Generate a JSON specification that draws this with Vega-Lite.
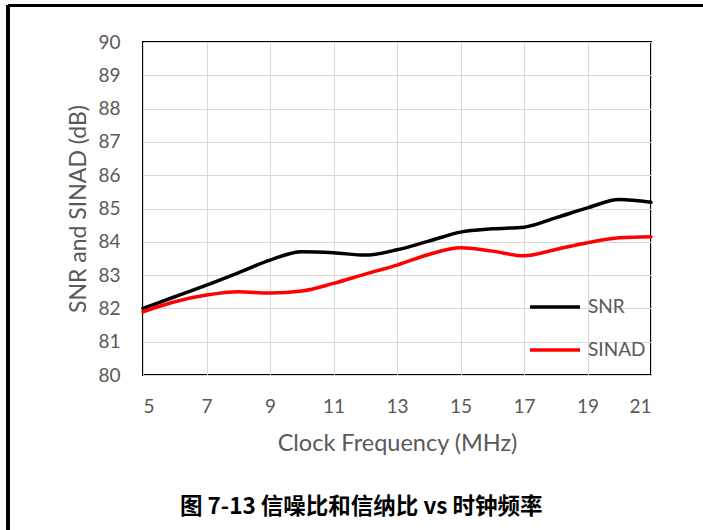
{
  "$schema": "https://vega.github.io/schema/vega-lite/v6.json",
  "autosize": "none",
  "width": 508,
  "height": 333,
  "padding": {"left": 143, "top": 42, "right": 52, "bottom": 155},
  "background": "white",
  "title": {
    "text": "图 7-13 信噪比和信纳比 vs 时钟频率",
    "orient": "bottom",
    "anchor": "middle",
    "frame": "bounds",
    "font": "Noto Sans CJK SC",
    "fontSize": 22.5,
    "fontWeight": "bold",
    "color": "black",
    "offset": -47
  },
  "config": {
    "view": {"stroke": "black", "strokeWidth": 2},
    "font": "Lato",
    "axis": {
      "domain": false,
      "ticks": false,
      "grid": true,
      "gridColor": "#D9D9D9",
      "gridWidth": 1,
      "labelOverlap": false,
      "labelFont": "Lato",
      "labelFontSize": 19,
      "labelColor": "#595959",
      "titleFont": "Lato",
      "titleFontWeight": "normal",
      "titleColor": "#595959"
    },
    "axisX": {"labelPadding": 22, "titleFontSize": 23.5, "titlePadding": 15},
    "axisY": {"labelPadding": 23, "titleFontSize": 23, "titlePadding": 7}
  },
  "data": {
    "values": [
      {"f": 5, "series": "SNR", "v": 82.0},
      {"f": 6, "series": "SNR", "v": 82.35},
      {"f": 7, "series": "SNR", "v": 82.7},
      {"f": 8, "series": "SNR", "v": 83.07},
      {"f": 9, "series": "SNR", "v": 83.45},
      {"f": 10, "series": "SNR", "v": 83.7},
      {"f": 11, "series": "SNR", "v": 83.67},
      {"f": 12, "series": "SNR", "v": 83.6},
      {"f": 13, "series": "SNR", "v": 83.76},
      {"f": 14, "series": "SNR", "v": 84.02},
      {"f": 15, "series": "SNR", "v": 84.29},
      {"f": 16, "series": "SNR", "v": 84.39},
      {"f": 17, "series": "SNR", "v": 84.44},
      {"f": 18, "series": "SNR", "v": 84.72},
      {"f": 19, "series": "SNR", "v": 85.02},
      {"f": 20, "series": "SNR", "v": 85.27},
      {"f": 21, "series": "SNR", "v": 85.19},
      {"f": 5, "series": "SINAD", "v": 81.9},
      {"f": 6, "series": "SINAD", "v": 82.2},
      {"f": 7, "series": "SINAD", "v": 82.4},
      {"f": 8, "series": "SINAD", "v": 82.5},
      {"f": 9, "series": "SINAD", "v": 82.46},
      {"f": 10, "series": "SINAD", "v": 82.52},
      {"f": 11, "series": "SINAD", "v": 82.75},
      {"f": 12, "series": "SINAD", "v": 83.03},
      {"f": 13, "series": "SINAD", "v": 83.3},
      {"f": 14, "series": "SINAD", "v": 83.62},
      {"f": 15, "series": "SINAD", "v": 83.82},
      {"f": 16, "series": "SINAD", "v": 83.72},
      {"f": 17, "series": "SINAD", "v": 83.58},
      {"f": 18, "series": "SINAD", "v": 83.77},
      {"f": 19, "series": "SINAD", "v": 83.97},
      {"f": 20, "series": "SINAD", "v": 84.12},
      {"f": 21, "series": "SINAD", "v": 84.15}
    ]
  },
  "layer": [
    {
      "mark": {"type": "line", "interpolate": "monotone", "strokeWidth": 3.5, "strokeCap": "round"},
      "encoding": {
        "x": {
          "field": "f",
          "type": "quantitative",
          "scale": {"domain": [5, 21], "nice": false, "zero": false},
          "axis": {"values": [5, 7, 9, 11, 13, 15, 17, 19, 21], "title": "Clock Frequency (MHz)"}
        },
        "y": {
          "field": "v",
          "type": "quantitative",
          "scale": {"domain": [80, 90], "nice": false, "zero": false},
          "axis": {"values": [80, 81, 82, 83, 84, 85, 86, 87, 88, 89, 90], "title": "SNR and SINAD (dB)"}
        },
        "color": {
          "field": "series",
          "type": "nominal",
          "scale": {"domain": ["SNR", "SINAD"], "range": ["#000000", "#FF0000"]},
          "legend": {
            "title": null,
            "orient": "none",
            "legendX": 385,
            "legendY": 254,
            "symbolType": "stroke",
            "symbolSize": 2500,
            "symbolStrokeWidth": 3.5,
            "labelFont": "Lato",
            "labelFontSize": 19,
            "labelColor": "#595959",
            "labelOffset": 6,
            "clipHeight": 22,
            "rowPadding": 21
          }
        }
      }
    },
    {
      "mark": {"type": "rule", "color": "black", "strokeWidth": 2.5},
      "encoding": {
        "x": {"datum": 0.75, "type": "quantitative", "axis": {"values": [5, 7, 9, 11, 13, 15, 17, 19, 21], "title": "Clock Frequency (MHz)"}},
        "y": {"datum": 91.1, "type": "quantitative", "axis": {"values": [80, 81, 82, 83, 84, 85, 86, 87, 88, 89, 90], "title": "SNR and SINAD (dB)"}},
        "y2": {"datum": 75}
      }
    },
    {
      "mark": {"type": "rule", "color": "black", "strokeWidth": 2.5},
      "encoding": {
        "x": {"datum": 0.75, "type": "quantitative", "axis": {"values": [5, 7, 9, 11, 13, 15, 17, 19, 21], "title": "Clock Frequency (MHz)"}},
        "x2": {"datum": 23},
        "y": {"datum": 91.1, "type": "quantitative", "axis": {"values": [80, 81, 82, 83, 84, 85, 86, 87, 88, 89, 90], "title": "SNR and SINAD (dB)"}}
      }
    }
  ]
}
